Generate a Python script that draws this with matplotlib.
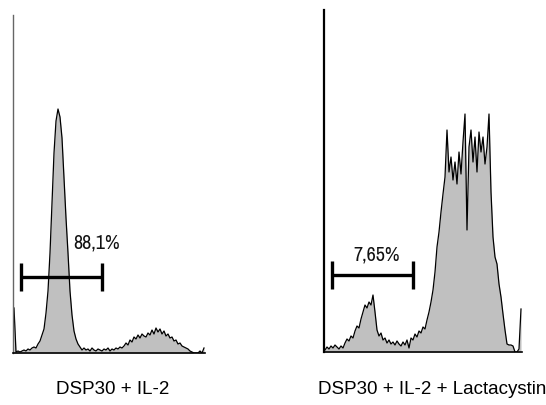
import numpy as np
import matplotlib
matplotlib.use("Agg")
import matplotlib.pyplot as plt
from matplotlib import font_manager

# ---- data (heights, arbitrary count units) ----
left_counts = [45, 1, 2, 1, 2, 3, 2, 4, 3, 5, 6, 5, 9, 12, 18, 24, 40, 62, 100, 150,
               200, 232, 244, 236, 215, 175, 135, 100, 62, 38, 22, 14, 9, 6, 3, 5, 3, 4, 2, 5,
               3, 2, 4, 3, 2, 4, 3, 5, 2, 4, 3, 5, 4, 6, 5, 7, 10, 8, 13, 11,
               16, 14, 18, 15, 19, 17, 16, 20, 18, 23, 19, 25, 21, 24, 19, 22, 17, 19, 15, 16,
               12, 13, 9, 10, 7, 6, 5, 4, 2, 1, 0, 0, 0, 2, 0, 5]
right_counts = [2, 5, 3, 6, 4, 7, 5, 3, 6, 4, 9, 13, 11, 16, 14, 21, 26, 24, 33, 40,
                47, 44, 50, 47, 57, 40, 22, 16, 19, 12, 14, 9, 12, 8, 10, 7, 11, 8, 6, 10,
                7, 12, 4, 14, 12, 18, 15, 21, 19, 25, 23, 32, 40, 50, 62, 80, 105, 120, 140, 158,
                175, 222, 180, 195, 172, 190, 168, 200, 178, 210, 238, 122, 205, 222, 190, 215, 180, 220, 200, 215,
                188, 205, 238, 160, 115, 95, 88, 68, 55, 38, 22, 8, 7, 7, 6, 0, 0, 3, 43]
left_gate = (3.5, 44.0)
right_gate = (3.5, 44.0)
left_label = "88,1%"
right_label = "7,65%"
titles = ["DSP30 + IL-2", "DSP30 + IL-2 + Lactacystin"]

# choose a narrow font if one is installed
narrow_props = dict(family="Liberation Sans")
for f in font_manager.fontManager.ttflist:
    if ("Narrow" in f.name or "Condensed" in f.name) and f.weight in (400, "normal", "regular") and f.style == "normal":
        narrow_props = dict(fname=f.fname)
        break
else:
    for f in font_manager.fontManager.ttflist:
        if f.stretch not in ("normal", 500) and f.style == "normal" and f.weight in (400, "normal"):
            narrow_props = dict(fname=f.fname)
            break

W, H = 546, 405
fig = plt.figure(figsize=(W / 100, H / 100), dpi=100)

def px_axes(x0, x1, ytop, ybot):
    return fig.add_axes([x0 / W, (H - ybot) / H, (x1 - x0) / W, (ybot - ytop) / H])

def draw(ax, counts, ylim, spine_color, spine_lw, gate, gate_y, label, label_y):
    x = np.arange(len(counts))
    ax.fill_between(x, counts, 0, color="#c0c0c0", linewidth=0)
    ax.plot(x, counts, color="black", lw=0.9)
    ax.set_xlim(-0.5, len(counts) - 0.5)
    ax.set_ylim(0, ylim)
    for s in ["top", "right"]:
        ax.spines[s].set_visible(False)
    ax.spines["left"].set_color(spine_color)
    ax.spines["left"].set_linewidth(spine_lw)
    ax.spines["bottom"].set_color("black")
    ax.spines["bottom"].set_linewidth(1.2)
    ax.set_xticks([])
    ax.set_yticks([])
    ax.patch.set_alpha(0)
    # gate bar
    ax.plot([gate[0], gate[1]], [gate_y, gate_y], color="black", lw=2.4, solid_capstyle="butt")
    for g in gate:
        ax.plot([g, g], [gate_y - 14, gate_y + 14], color="black", lw=2.4, solid_capstyle="butt")
    fp = font_manager.FontProperties(size=14.5, **narrow_props)
    ax.text(label[1], label_y, label[0], ha="center", va="center",
            fontproperties=fp, color="#111111")

axL = px_axes(13, 205, 15, 353)
draw(axL, left_counts, 338, "#666666", 1.0, left_gate, 76, (left_label, 41.5), 110)

axR = px_axes(324, 522, 10, 352)
draw(axR, right_counts, 342, "black", 1.6, right_gate, 77, (right_label, 26), 97)

fig.text(113 / W, 1 - 390 / H, titles[0], ha="center", va="center",
         fontsize=13.5, family="Liberation Sans")
fig.text(546 / W, 1 - 390 / H, titles[1], ha="right", va="center",
         fontsize=13.5, family="Liberation Sans")

fig.savefig("out.png", dpi=100)
